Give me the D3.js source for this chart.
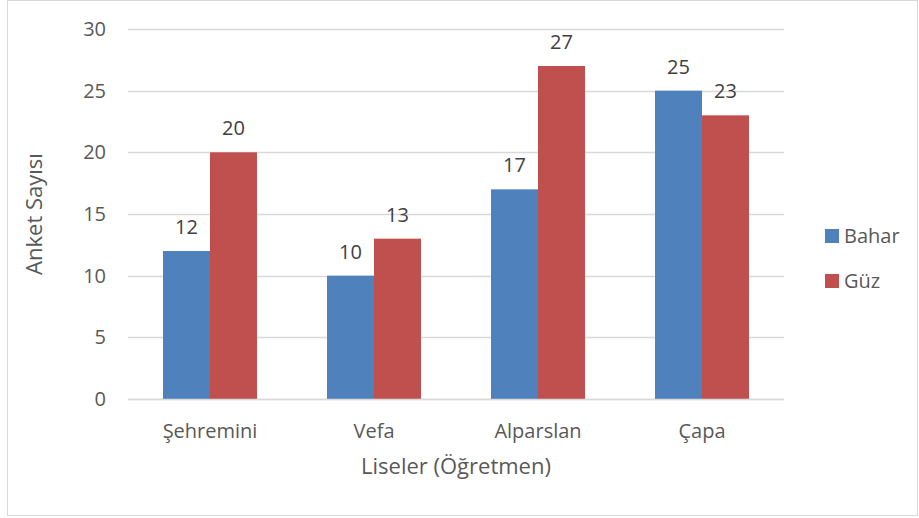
<!DOCTYPE html>
<html><head><meta charset="utf-8">
<script src="https://cdn.jsdelivr.net/npm/d3@7"></script>
<style>body{margin:0;background:#fff}svg{display:block}</style>
</head><body>
<svg id="c" width="919" height="518"></svg>
<script>
const categories = ["Şehremini", "Vefa", "Alparslan", "Çapa"];
const seriesNames = ["Bahar", "Güz"];
const bahar = [12, 10, 17, 25];
const guz = [20, 13, 27, 23];
const yTicks = [0, 5, 10, 15, 20, 25, 30];
const colors = ["#4F81BD", "#C0504D"];
const font = "'Open Sans', sans-serif";

(function () {
const svg = d3.select("#c");
svg.append("rect").attr("x", 7.5).attr("y", 0.5).attr("width", 910).attr("height", 515)
  .attr("fill", "#fff").attr("stroke", "#d9d9d9");

const pLeft = 128, pRight = 784, pTop = 29, pBottom = 399;
const x = d3.scaleBand().domain(categories).range([pLeft, pRight]).paddingInner(0).paddingOuter(0);
const y = d3.scaleLinear().domain([0, 30]).range([pBottom, pTop]);
const xs = d3.scaleBand().domain(seriesNames).range([0, x.bandwidth()]).paddingInner(0).paddingOuter(0.745);

svg.append("g").selectAll("line").data(yTicks).join("line")
  .attr("x1", pLeft).attr("x2", pRight)
  .attr("y1", d => Math.round(y(d)) + 0.5).attr("y2", d => Math.round(y(d)) + 0.5)
  .attr("stroke", "#d9d9d9").attr("stroke-width", 1.3);

svg.append("g").selectAll("text").data(yTicks).join("text")
  .attr("x", 106).attr("y", d => y(d)).attr("dy", "0.35em").attr("text-anchor", "end")
  .attr("font-family", font).attr("font-size", 20).attr("fill", "#595959").text(d => d);

const data = categories.map((c, i) => ({c, vals: [bahar[i], guz[i]]}));
const groups = svg.append("g").selectAll("g").data(data).join("g")
  .attr("transform", d => `translate(${x(d.c)},0)`);
groups.selectAll("rect").data(d => d.vals.map((v, j) => ({s: seriesNames[j], v, j}))).join("rect")
  .attr("x", d => xs(d.s)).attr("width", xs.bandwidth())
  .attr("y", d => y(d.v)).attr("height", d => y(0) - y(d.v))
  .attr("fill", d => colors[d.j]);
groups.selectAll("text").data(d => d.vals.map((v, j) => ({s: seriesNames[j], v, j}))).join("text")
  .attr("x", d => xs(d.s) + xs.bandwidth() / 2).attr("y", d => y(d.v) - 17)
  .attr("text-anchor", "middle").attr("font-family", font).attr("font-size", 20)
  .attr("fill", "#404040").text(d => d.v);

svg.append("line").attr("x1", pLeft).attr("x2", pRight).attr("y1", y(0) + 0.5).attr("y2", y(0) + 0.5)
  .attr("stroke", "#d9d9d9").attr("stroke-width", 1.3);

svg.append("g").selectAll("text").data(categories).join("text")
  .attr("x", d => x(d) + x.bandwidth() / 2).attr("y", 438).attr("text-anchor", "middle")
  .attr("font-family", font).attr("font-size", 20).attr("fill", "#595959").text(d => d);

svg.append("text").attr("x", 456).attr("y", 474).attr("text-anchor", "middle")
  .attr("font-family", font).attr("font-size", 22).attr("fill", "#595959").text("Liseler (Öğretmen)");
svg.append("text").attr("transform", "translate(42,214) rotate(-90)").attr("text-anchor", "middle")
  .attr("font-family", font).attr("font-size", 22).attr("fill", "#595959").text("Anket Sayısı");

const lg = svg.append("g").selectAll("g").data(seriesNames).join("g")
  .attr("transform", (d, i) => `translate(825,${229 + i * 45})`);
lg.append("rect").attr("width", 14).attr("height", 14).attr("fill", (d, i) => colors[i]);
lg.append("text").attr("x", 19).attr("y", 7).attr("dy", "0.35em")
  .attr("font-family", font).attr("font-size", 20).attr("fill", "#595959").text(d => d);
})();
</script>
</body></html>
